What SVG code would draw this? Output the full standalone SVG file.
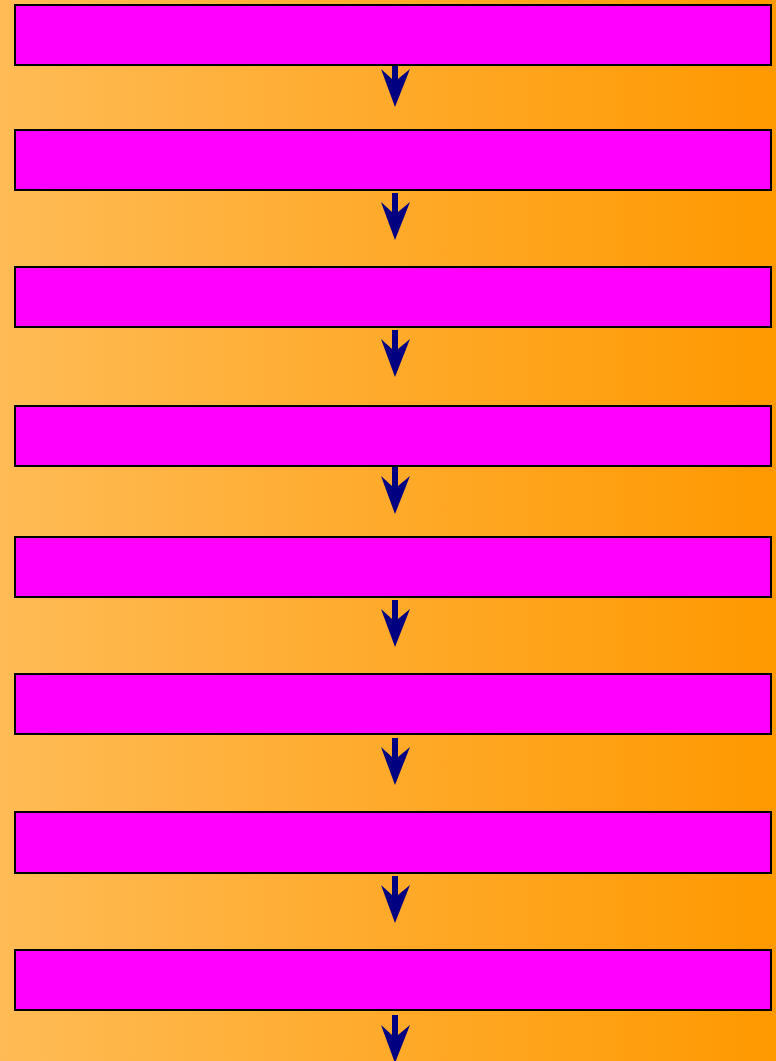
<svg xmlns="http://www.w3.org/2000/svg" width="776" height="1061" viewBox="0 0 776 1061">
<defs>
<linearGradient id="bg" x1="0" y1="0" x2="1" y2="0">
<stop offset="0" stop-color="#FFBB55"/>
<stop offset="1" stop-color="#FF9900"/>
</linearGradient>
<style>
.box{fill:#FF00FF;stroke:#000;stroke-width:2}
.shadow{fill:none;stroke:#5a3a30;stroke-width:1;opacity:0.6}
.arr{fill:#000080;stroke:none}
</style>
</defs>
<rect x="0" y="0" width="776" height="1061" fill="url(#bg)"/>
<g id="node1"><rect class="box" x="15" y="5" width="756" height="60"/></g>
<g id="node2"><rect class="box" x="15" y="130" width="756" height="60"/></g>
<g id="node3"><rect class="box" x="15" y="267" width="756" height="60"/></g>
<g id="node4"><rect class="box" x="15" y="406" width="756" height="60"/></g>
<g id="node5"><rect class="box" x="15" y="537" width="756" height="60"/></g>
<g id="node6"><rect class="box" x="15" y="674" width="756" height="60"/></g>
<g id="node7"><rect class="box" x="15" y="812" width="756" height="61"/></g>
<g id="node8"><rect class="box" x="15" y="950" width="756" height="60"/></g>
<g id="connectors">
<path class="arr" d="M392,66 L398,66 L398,79 L410,69 L395,107 L381,69 L392,79 Z"/>
<path class="arr" d="M392,193 L398,193 L398,212 L410,202 L395,240 L381,202 L392,212 Z"/>
<path class="arr" d="M392,330 L398,330 L398,349 L410,339 L395,377 L381,339 L392,349 Z"/>
<path class="arr" d="M392,467 L398,467 L398,486 L410,476 L395,514 L381,476 L392,486 Z"/>
<path class="arr" d="M392,600 L398,600 L398,619 L410,609 L395,647 L381,609 L392,619 Z"/>
<path class="arr" d="M392,738 L398,738 L398,757 L410,747 L395,785 L381,747 L392,757 Z"/>
<path class="arr" d="M392,876 L398,876 L398,895 L410,885 L395,923 L381,885 L392,895 Z"/>
<path class="arr" d="M392,1015 L398,1015 L398,1035 L410,1025 L395,1063 L381,1025 L392,1035 Z"/>
</g>
</svg>
